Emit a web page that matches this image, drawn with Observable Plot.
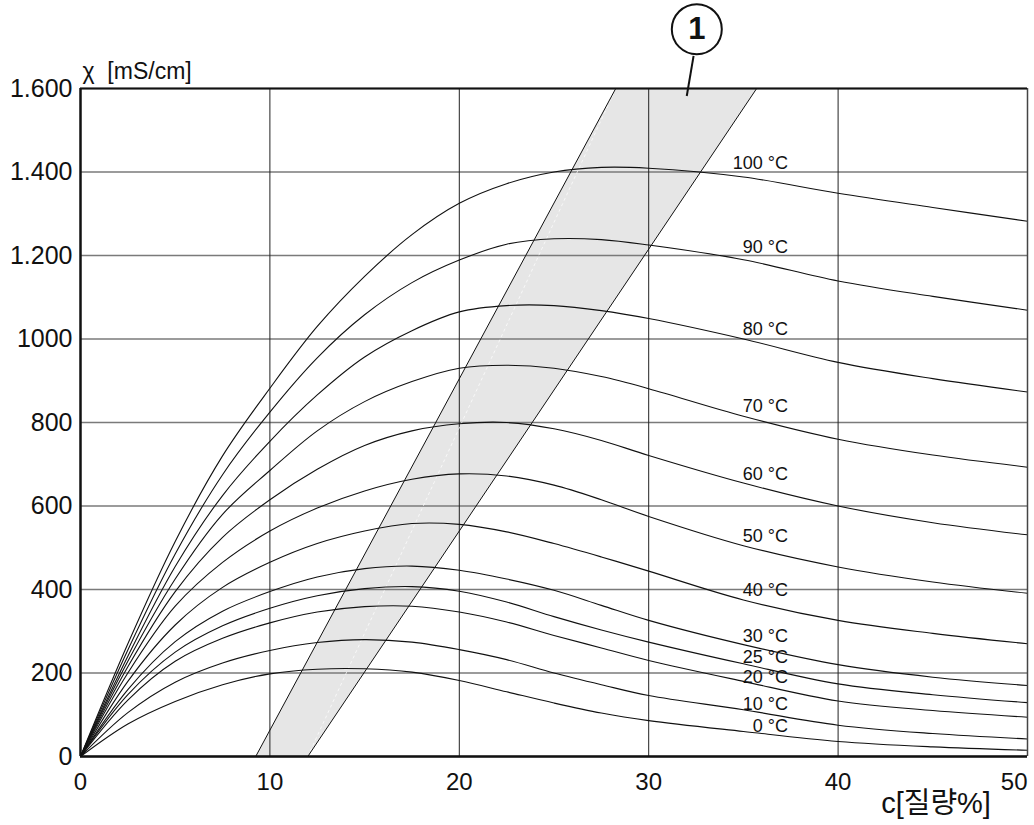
<!DOCTYPE html>
<html><head><meta charset="utf-8">
<script src="https://cdn.jsdelivr.net/npm/d3@7"></script>
<script src="https://cdn.jsdelivr.net/npm/@observablehq/plot@0.6"></script>
<style>html,body{margin:0;padding:0;background:#fff;overflow:hidden}svg{display:block}</style>
</head><body><div id="chart"></div>
<script>
// concentration grid (mass %)
const conc = [0, 2.5, 5, 7.5, 10, 12.5, 15, 17.5, 20, 22.5, 25, 27.5, 30, 35, 40, 45, 50];
const temps = ["100 °C", "90 °C", "80 °C", "70 °C", "60 °C", "50 °C", "40 °C", "30 °C", "25 °C", "20 °C", "10 °C", "0 °C"];
// conductivity (mS/cm) per temperature
const k100 = [0, 270, 515, 720, 882, 1030, 1150, 1250, 1325, 1372, 1400, 1411, 1409, 1388, 1349, 1315, 1282];
const k90  = [0, 255, 485, 675, 825, 955, 1058, 1135, 1189, 1227, 1240, 1238, 1225, 1190, 1139, 1102, 1069];
const k80  = [0, 240, 455, 625, 755, 866, 957, 1020, 1065, 1080, 1080, 1068, 1049, 1000, 944, 905, 873];
const k70  = [0, 228, 425, 580, 685, 780, 850, 898, 930, 937, 930, 910, 881, 815, 760, 722, 693];
const k60  = [0, 215, 395, 525, 615, 688, 745, 780, 797, 800, 785, 757, 721, 655, 600, 560, 531];
const k50  = [0, 200, 360, 465, 540, 595, 636, 664, 677, 672, 650, 615, 575, 505, 454, 418, 391];
const k40  = [0, 180, 315, 405, 465, 510, 540, 558, 556, 538, 510, 478, 444, 375, 326, 295, 270];
const k30  = [0, 160, 275, 348, 395, 430, 450, 456, 446, 425, 398, 362, 326, 268, 220, 190, 170];
const k25  = [0, 148, 250, 313, 355, 385, 402, 407, 396, 370, 335, 303, 274, 222, 174, 148, 129];
const k20  = [0, 135, 228, 283, 320, 346, 359, 360, 346, 322, 290, 260, 230, 180, 133, 110, 94];
const k10  = [0, 105, 178, 224, 254, 273, 280, 274, 256, 232, 200, 172, 146, 112, 75, 55, 42];
const k0   = [0, 78, 132, 172, 198, 209, 210, 202, 182, 155, 128, 104, 86, 60, 36, 23, 15];
const series = [k100, k90, k80, k70, k60, k50, k40, k30, k25, k20, k10, k0];
// curve label anchor values (mS/cm) at the label column
const labelConc = 37.35;
const labelValues = [1407, 1205, 1009, 825, 662, 514, 384, 274, 224, 176, 112, 58];
// axes
const xTicks = [0, 10, 20, 30, 40, 50];
const xTickLabels = ["0", "10", "20", "30", "40", "50"];
const yTicks = [0, 200, 400, 600, 800, 1000, 1200, 1400, 1600];
const yTickLabels = ["0", "200", "400", "600", "800", "1000", "1.200", "1.400", "1.600"];
// band (1): corners in (mass %, mS/cm)
const bandConc = [9.25, 12.0, 35.7, 28.26];
const bandCond = [0, 0, 1600, 1600];
const calloutText = "1";
const yTitle = "χ  [mS/cm]";
const xTitle = "c[질량%]";

const rows = [];
series.forEach((s, i) => conc.forEach((c, j) => rows.push({temp: temps[i], c, v: s[j]})));
const band = bandConc.map((c, i) => ({c, v: bandCond[i]}));
const labels = temps.map((t, i) => ({t, c: labelConc, v: labelValues[i]}));
const xLab = xTicks.map((d, i) => ({d, t: xTickLabels[i]}));

const font = "'Liberation Sans', Arial, 'Noto Sans CJK KR', sans-serif";

const chart = Plot.plot({
  width: 1034, height: 825,
  marginLeft: 80, marginRight: 7, marginTop: 88, marginBottom: 69,
  style: {fontFamily: font, background: "white", color: "#111"},
  x: {domain: [0, 50], label: null, axis: null},
  y: {domain: [0, 1600], label: null},
  marks: [
    Plot.line(band, {x: "c", y: "v", fill: "#e6e6e6", stroke: "none"}),
    Plot.gridY(yTicks, {stroke: "#7a7a7a", strokeOpacity: 1, strokeWidth: 1.5}),
    Plot.gridX(xTicks, {stroke: "#222", strokeOpacity: 1, strokeWidth: 1}),
    Plot.link([0], {x1: () => band[1].c, y1: () => band[1].v, x2: () => band[3].c, y2: () => band[3].v,
      stroke: "white", strokeWidth: 0.8, strokeDasharray: "3,3", strokeOpacity: 0.9}),
    Plot.line(rows, {x: "c", y: "v", z: "temp", stroke: "#111", strokeWidth: 1.1, curve: "catmull-rom"}),
    Plot.link([0, 1], {x1: i => band[i].c, y1: i => band[i].v, x2: i => band[3 - i].c, y2: i => band[3 - i].v,
      stroke: "#111", strokeWidth: 1}),
    Plot.text(labels, {x: "c", y: "v", text: "t", textAnchor: "end", lineAnchor: "bottom", fontSize: 18, fill: "#111"}),
    Plot.ruleX([0], {stroke: "#111", strokeWidth: 2.5}),
    Plot.ruleX([50], {stroke: "#444", strokeWidth: 1.5}),
    Plot.ruleY([0], {stroke: "#111", strokeWidth: 2.5}),
    Plot.ruleY([1600], {stroke: "#111", strokeWidth: 2}),
    Plot.text(xLab.filter(e => e.d < 50), {x: "d", y: () => 0, text: "t", lineAnchor: "top", dy: 16, fontSize: 24, fill: "#111"}),
    Plot.text(xLab.filter(e => e.d === 50), {x: "d", y: () => 0, text: "t", lineAnchor: "top", textAnchor: "end", dy: 16, fontSize: 24, fill: "#111"}),
    Plot.axisY(yTicks, {tickSize: 0, tickPadding: 8, fontSize: 25, tickFormat: d => yTickLabels[yTicks.indexOf(d)], label: null}),
    Plot.link([0], {x1: () => 32.37, y1: () => 1678, x2: () => 32.01, y2: () => 1582, stroke: "#111", strokeWidth: 2}),
    Plot.dot([0], {x: () => 32.54, y: () => 1742, r: 25, stroke: "#111", strokeWidth: 2, fill: "white"}),
    Plot.text([calloutText], {x: () => 32.54, y: () => 1742, text: d => d, fontSize: 31, fontWeight: "bold", fill: "#111"}),
    Plot.text([yTitle], {x: () => 0, y: () => 1640, text: d => d, textAnchor: "start", dx: 2, fontSize: 23, fill: "#111"}),
    Plot.text([xTitle], {x: () => 45.17, y: () => -113, text: d => d, fontSize: 29, fill: "#111"})
  ]
});
document.getElementById("chart").appendChild(chart);
</script>
</body></html>
